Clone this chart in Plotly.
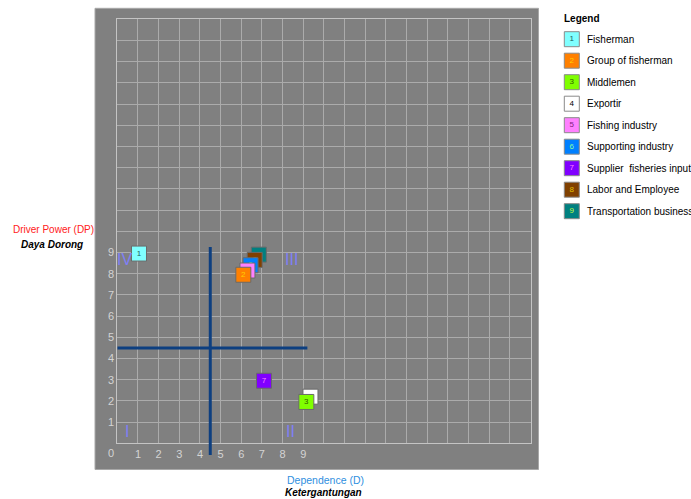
import plotly.graph_objects as go

# ---- data ----
numbers = ["1", "2", "3", "4", "5", "6", "7", "8", "9"]
names = ["Fisherman", "Group of fisherman", "Middlemen", "Exportir", "Fishing industry",
         "Supporting industry", "Supplier  fisheries input", "Labor and Employee",
         "Transportation business"]
dependence = [1.05, 6.1, 9.15, 9.35, 6.3, 6.45, 7.1, 6.65, 6.85]
driver_power = [8.95, 7.95, 1.95, 2.2, 8.15, 8.4, 2.95, 8.65, 8.9]
fill_colors = ["#80ffff", "#ff8000", "#80ff00", "#ffffff", "#ff80ff",
               "#0080ff", "#8000ff", "#804000", "#008080"]
num_colors = ["#206060", "#ffd000", "#306000", "#000000", "#802080",
              "#80ffa0", "#ff80ff", "#e0c000", "#c0ff40"]
tick_vals = list(range(0, 21))
tick_text = [str(v) if 1 <= v <= 9 else "" for v in tick_vals]
quadrants = ["I", "II", "III", "IV"]
quad_x = [0.45, 8.4, 8.45, 0.37]
quad_y = [0.55, 0.55, 8.68, 8.68]
divider = 4.5

W, H = 691, 499
FONT = "Liberation Sans, Arial, sans-serif"

def px(x):
    return x / W

def py(y):
    return 1 - y / H

fig = go.Figure()

# main points, drawn so lower-numbered ones sit on top
for i in reversed(range(len(numbers))):
    fig.add_trace(go.Scatter(
        x=[dependence[i]], y=[driver_power[i]], mode="markers+text",
        text=[numbers[i]], textposition="middle center",
        textfont=dict(size=8, color=num_colors[i], family=FONT),
        marker=dict(symbol="square", size=15, color=fill_colors[i],
                    line=dict(color="#6a6a6a", width=1)),
        name=names[i], showlegend=False, cliponaxis=False, hoverinfo="skip",
        xaxis="x", yaxis="y"))

# custom legend
legend_idx = list(range(len(numbers)))
fig.add_trace(go.Scatter(
    x=[0] * len(numbers), y=legend_idx, mode="markers+text",
    text=numbers, textposition="middle center",
    textfont=dict(size=8, color=num_colors, family=FONT),
    marker=dict(symbol="square", size=15, color=fill_colors,
                line=dict(color="#8a8a8a", width=1)),
    showlegend=False, cliponaxis=False, hoverinfo="skip",
    xaxis="x2", yaxis="y2"))

annotations = []
for i, n in enumerate(names):
    annotations.append(dict(x=13.5, y=i, xref="x2", yref="y2", text=n, showarrow=False,
                            xanchor="left", yanchor="middle",
                            font=dict(size=10, color="#000000", family=FONT)))
annotations.append(dict(x=px(562), y=py(18), xref="paper", yref="paper", text="<b>Legend</b>",
                        showarrow=False, xanchor="left", yanchor="middle",
                        font=dict(size=10, color="#000000", family=FONT)))
for t, qx, qy in zip(quadrants, quad_x, quad_y):
    annotations.append(dict(x=qx, y=qy, xref="x", yref="y", text=t, showarrow=False,
                            xanchor="center", yanchor="middle",
                            font=dict(size=16, color="#7f7ff5", family=FONT)))
annotations.append(dict(x=px(111), y=py(452.5), xref="paper", yref="paper", text="0",
                        showarrow=False, xanchor="center", yanchor="middle",
                        font=dict(size=11, color="#d4d4d4", family=FONT)))
annotations += [
    dict(x=px(53), y=py(229.5), xref="paper", yref="paper", text="Driver Power (DP)",
         showarrow=False, xanchor="center", yanchor="middle",
         font=dict(size=10, color="#ff2020", family=FONT)),
    dict(x=px(52), y=py(244), xref="paper", yref="paper", text="<b><i>Daya Dorong</i></b>",
         showarrow=False, xanchor="center", yanchor="middle",
         font=dict(size=10, color="#000000", family=FONT)),
    dict(x=px(325), y=py(479.5), xref="paper", yref="paper", text="Dependence (D)",
         showarrow=False, xanchor="center", yanchor="middle",
         font=dict(size=10.5, color="#2f8fe0", family=FONT)),
    dict(x=px(323), y=py(492), xref="paper", yref="paper", text="<b><i>Ketergantungan</i></b>",
         showarrow=False, xanchor="center", yanchor="middle",
         font=dict(size=10, color="#000000", family=FONT)),
]

shapes = [
    dict(type="rect", xref="paper", yref="paper", x0=px(95), x1=px(538.5), y0=py(469.5), y1=py(8.3),
         fillcolor="#808080", line=dict(color="#a8a8a8", width=1), layer="below"),
    dict(type="line", xref="x", yref="y", x0=0, x1=9.2, y0=divider, y1=divider,
         line=dict(color="#0d3f80", width=3)),
    dict(type="line", xref="x", yref="paper", x0=divider, x1=divider, y0=py(455), y1=py(247),
         line=dict(color="#0d3f80", width=3)),
]

axis_common = dict(range=[0, 20], tickmode="array", tickvals=tick_vals, ticktext=tick_text,
                   showgrid=True, gridcolor="#ababab", gridwidth=1, zeroline=False,
                   showline=True, linecolor="#c4c4c4", linewidth=1, mirror=True,
                   ticks="", tickfont=dict(size=11, color="#d4d4d4", family=FONT),
                   fixedrange=True, automargin=False)

fig.update_layout(
    width=W, height=H, margin=dict(l=0, r=0, t=0, b=0),
    paper_bgcolor="#ffffff", plot_bgcolor="rgba(0,0,0,0)",
    xaxis=dict(domain=[px(117.3), px(530.5)], **axis_common),
    yaxis=dict(domain=[py(443.3), py(19.3)], **axis_common),
    xaxis2=dict(domain=[px(553), 1], range=[-18.8, 119.2], visible=False, fixedrange=True,
                anchor="y2"),
    yaxis2=dict(domain=[0, 1], range=[21.386, -1.823], visible=False, fixedrange=True,
                anchor="x2"),
    annotations=annotations, shapes=shapes, showlegend=False,
    font=dict(family=FONT),
)

fig.write_html("out.html", config={"displayModeBar": False},
               post_script="document.body.style.margin='0';")
